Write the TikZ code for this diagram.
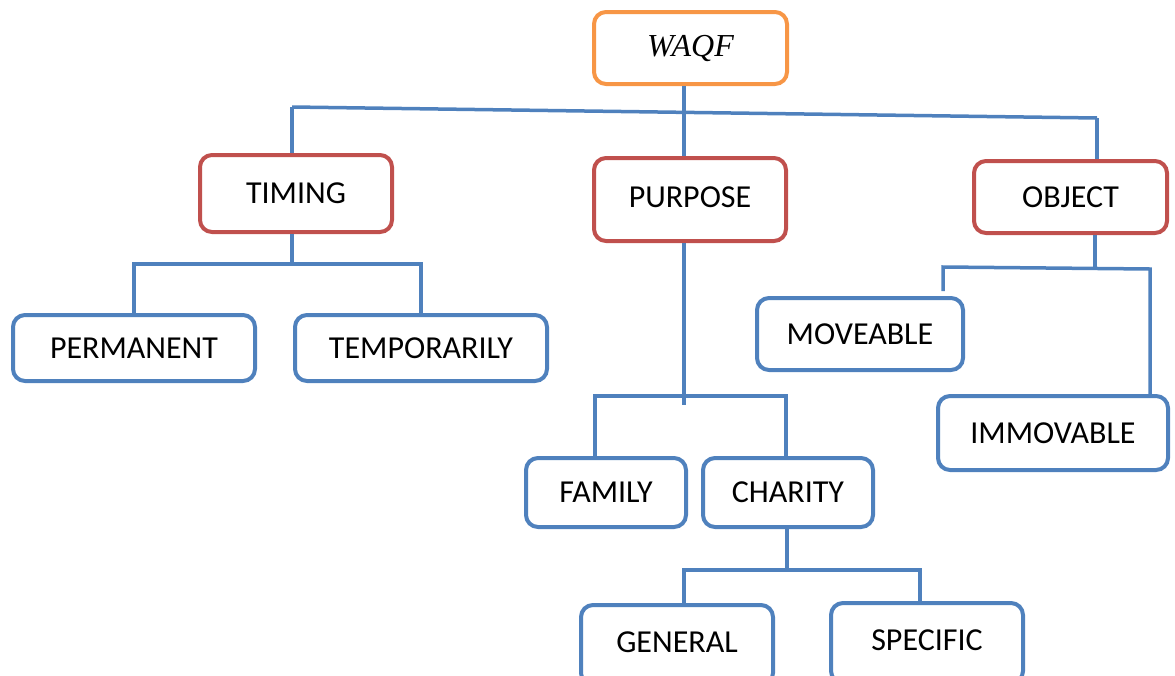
\documentclass[tikz,border=0pt]{standalone}
\usepackage{fontspec}
\setmainfont{Carlito}
\newfontfamily\timesfont{Liberation Serif}
\definecolor{bblue}{HTML}{4F81BD}
\definecolor{rred}{HTML}{C0504D}
\definecolor{oorange}{HTML}{F79646}
\tikzset{
  box/.style={draw=bblue, rectangle, rounded corners=12pt, line width=4pt, fill=white, inner sep=0pt, font=\fontsize{32}{36}\selectfont},
  topbox/.style={box, draw=oorange, font=\fontsize{32}{36}\selectfont\timesfont\itshape},
  midbox/.style={box, draw=rred},
  lowbox/.style={box, minimum width=192pt, text height=47pt, text depth=33pt, anchor=base},
  conn/.style={draw=bblue, line width=3.5pt}
}
\begin{document}
\begin{tikzpicture}[x=1pt,y=-1pt]
\useasboundingbox (0,0) rectangle (1175,675);
% nodes
\node[topbox, minimum width=193pt, minimum height=72pt] (waqf) at (690.5,48) {WAQF};
\node[midbox, minimum width=192pt, minimum height=77pt] (timing) at (296,193.5) {TIMING};
\node[midbox, minimum width=192pt, minimum height=83pt] (purpose) at (690,199.5) {\raisebox{4pt}{PURPOSE}};
\node[midbox, minimum width=193pt, minimum height=72pt] (object) at (1070.5,197) {OBJECT};
\node[box, minimum width=242pt, minimum height=66pt] (permanent) at (134,348) {PERMANENT};
\node[box, minimum width=252pt, minimum height=66pt] (temporarily) at (421,348) {TEMPORARILY};
\node[box, minimum width=206pt, minimum height=72pt] (moveable) at (860,334) {MOVEABLE};
\node[box, minimum width=230pt, minimum height=74pt] (immovable) at (1053,433) {IMMOVABLE};
\node[box, minimum width=160pt, minimum height=69pt] (family) at (606,492.5) {FAMILY};
\node[box, minimum width=170pt, minimum height=69pt] (charity) at (788,492.5) {CHARITY};
\node[lowbox] (general) at (677,652) {GENERAL};
\node[lowbox] (specific) at (927,650) {SPECIFIC};
% junction coordinates
\coordinate (jL) at (292,107);
\coordinate (jR) at (1097,118);
\coordinate (wj) at (684,0);
\coordinate (tj) at (292,264);
\coordinate (pe) at (684,405);
\coordinate (fa) at (595,396);
\coordinate (ch) at (786,396);
\coordinate (cj) at (787,570);
\coordinate (ge) at (684,570);
\coordinate (sp) at (920,570);
\coordinate (ob) at (1095,268);
\coordinate (mo) at (943,267);
\coordinate (im) at (1150,269);
% connectors
\draw[conn] (wj |- waqf.south) -- (wj |- purpose.north);
\draw[conn] (jL) -- (jR);
\draw[conn] (jL) -- (jL |- timing.north);
\draw[conn] (jR) -- (jR |- object.north);
\draw[conn] (tj |- timing.south) -- (tj);
\draw[conn] (permanent.north) -- (permanent.north |- tj) -- (temporarily.north |- tj) -- (temporarily.north);
\draw[conn] (pe |- purpose.south) -- (pe);
\draw[conn] (fa |- family.north) -- (fa) -- (ch) -- (ch |- charity.north);
\draw[conn] (cj |- charity.south) -- (cj);
\draw[conn] (ge |- general.north) -- (ge) -- (sp) -- (sp |- specific.north);
\draw[conn] (ob |- object.south) -- (ob);
\draw[conn] ([yshift=5pt]mo |- moveable.north) -- (mo) -- (im) -- (im |- immovable.north);
\end{tikzpicture}
\end{document}
